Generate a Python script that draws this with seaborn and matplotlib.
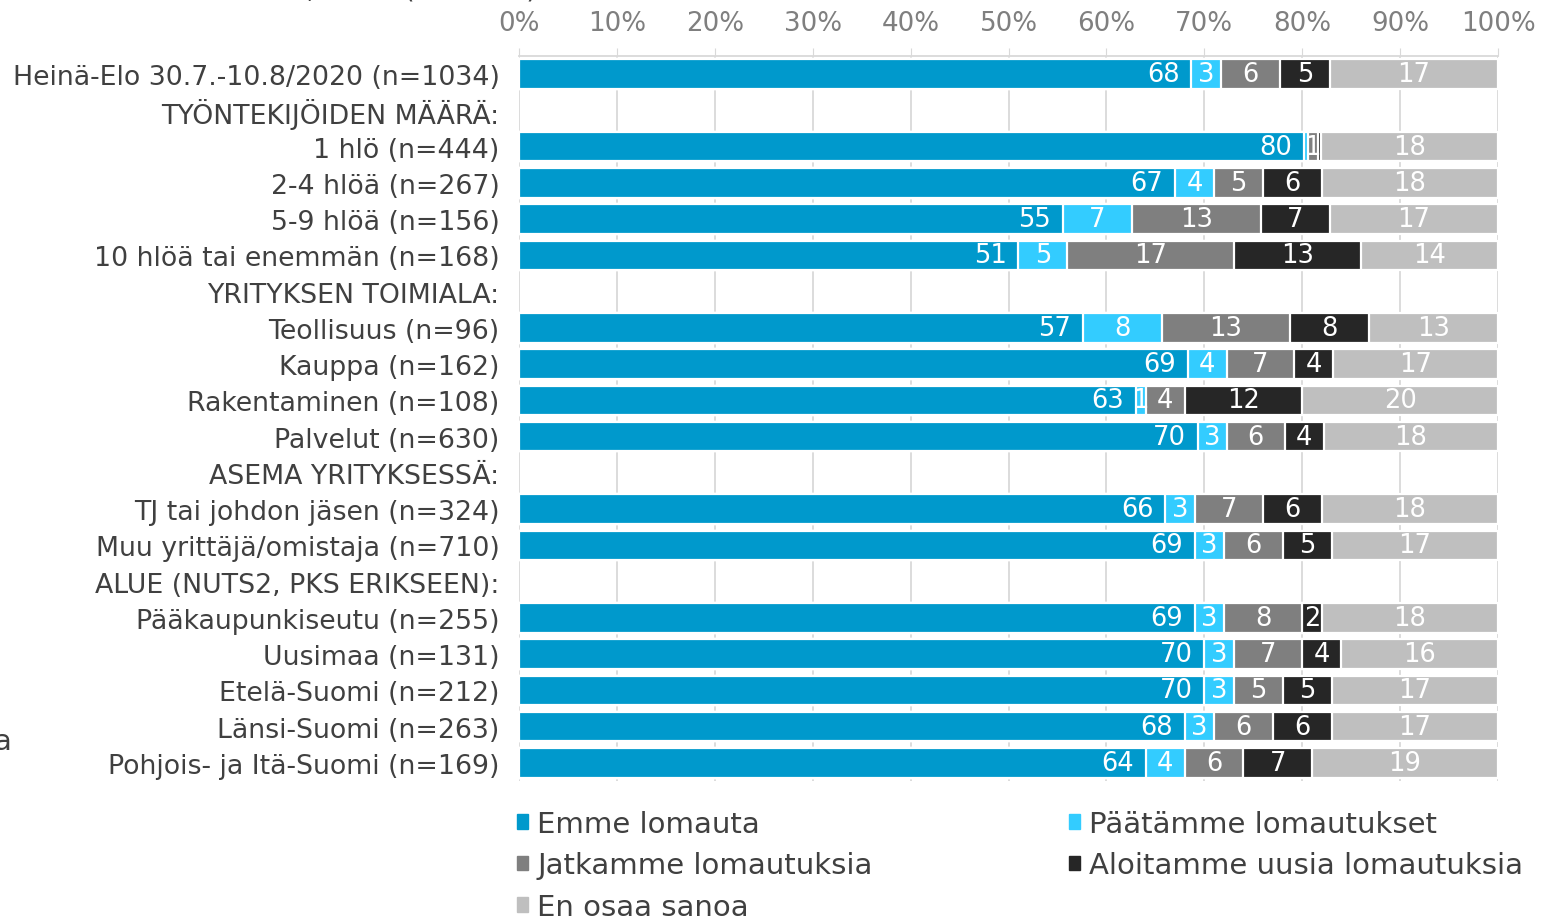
import numpy as np
import pandas as pd
import matplotlib
matplotlib.use("Agg")
import matplotlib.pyplot as plt
import matplotlib.patches as mpatches
from matplotlib.ticker import FuncFormatter
import seaborn as sns

categories = [
    "Heinä-Elo 30.7.-10.8/2020 (n=1034)",
    "TYÖNTEKIJÖIDEN MÄÄRÄ:",
    "1 hlö (n=444)",
    "2-4 hlöä (n=267)",
    "5-9 hlöä (n=156)",
    "10 hlöä tai enemmän (n=168)",
    "YRITYKSEN TOIMIALA:",
    "Teollisuus (n=96)",
    "Kauppa (n=162)",
    "Rakentaminen (n=108)",
    "Palvelut (n=630)",
    "ASEMA YRITYKSESSÄ:",
    "TJ tai johdon jäsen (n=324)",
    "Muu yrittäjä/omistaja (n=710)",
    "ALUE (NUTS2, PKS ERIKSEEN):",
    "Pääkaupunkiseutu (n=255)",
    "Uusimaa (n=131)",
    "Etelä-Suomi (n=212)",
    "Länsi-Suomi (n=263)",
    "Pohjois- ja Itä-Suomi (n=169)",
]

nan = np.nan
emme = [68, nan, 80, 67, 55, 51, nan, 57, 69, 63, 70, nan, 66, 69, nan, 69, 70, 70, 68, 64]
paatamme = [3, nan, 0.4, 4, 7, 5, nan, 8, 4, 1, 3, nan, 3, 3, nan, 3, 3, 3, 3, 4]
jatkamme = [6, nan, 1, 5, 13, 17, nan, 13, 7, 4, 6, nan, 7, 6, nan, 8, 7, 5, 6, 6]
aloitamme = [5, nan, 0.4, 6, 7, 13, nan, 8, 4, 12, 4, nan, 6, 5, nan, 2, 4, 5, 6, 7]
en_osaa = [17, nan, 18, 18, 17, 14, nan, 13, 17, 20, 18, nan, 18, 17, nan, 18, 16, 17, 17, 19]

series_names = ["Emme lomauta", "Päätämme lomautukset", "Jatkamme lomautuksia",
                "Aloitamme uusia lomautuksia", "En osaa sanoa"]
colors = ["#0099CC", "#33CCFF", "#7F7F7F", "#262626", "#BFBFBF"]

df = pd.DataFrame({"label": categories})
for name, vals in zip(series_names, [emme, paatamme, jatkamme, aloitamme, en_osaa]):
    df[name] = vals

# 100 % pinottu: skaalataan rivit sataan
share = df[series_names].div(df[series_names].sum(axis=1, min_count=1), axis=0) * 100
cum = share.cumsum(axis=1)
cum["label"] = df["label"]

plt.rcParams["font.family"] = ["DejaVu Sans"]
fig = plt.figure(figsize=(15.42, 9.2), dpi=100)
ax = fig.add_axes([519 / 1542, 1 - 782 / 920, (1498 - 519) / 1542, (782 - 57) / 920])

# piirretään kumulatiiviset summat takaperin päällekkäin
for k in reversed(range(len(series_names))):
    sns.barplot(data=cum, x=series_names[k], y="label", order=categories, orient="h",
                color=colors[k], saturation=1, width=0.82, edgecolor="white",
                linewidth=1.6, errorbar=None, ax=ax, zorder=2)

for i in range(len(categories)):
    start = 0
    for j, name in enumerate(series_names):
        v = df.loc[i, name]
        if np.isnan(v):
            continue
        w = share.loc[i, name]
        if v >= 1:
            if j == 0:
                # ensimmäisen sarjan luku palkin sisäpäähän
                ax.text(start + w - 1.2, i, f"{v:.0f}", ha="right", va="center",
                        color="white", fontsize=18.5, zorder=3)
            else:
                ax.text(start + w / 2, i, f"{v:.0f}", ha="center", va="center",
                        color="white", fontsize=18.5, zorder=3)
        start += w

ax.set_xlim(0, 100)
ax.set_ylim(len(categories) - 0.5, -0.5)
ax.set_xlabel("")
ax.set_ylabel("")
ax.xaxis.tick_top()
ax.set_xticks(np.arange(0, 101, 10))
ax.xaxis.set_major_formatter(FuncFormatter(lambda x, p: f"{x:.0f}%"))
ax.grid(axis="x", color="#D9D9D9", lw=1.3)
ax.grid(axis="y", visible=False)
ax.set_axisbelow(True)
for s in ["left", "right", "bottom"]:
    ax.spines[s].set_visible(False)
ax.spines["top"].set_color("#D9D9D9")
ax.spines["top"].set_linewidth(1.3)
ax.tick_params(axis="x", top=True, length=6, color="#D9D9D9", labelcolor="#7F7F7F",
               labelsize=18.8, pad=8.5)
ax.tick_params(axis="y", length=0, labelcolor="#404040", labelsize=19.3, pad=14)

handles = [mpatches.Patch(color=c) for c in colors]
leg_kw = dict(loc="upper left", frameon=False, fontsize=21, handlelength=0.4,
              handleheight=0.4, handletextpad=0.3, labelspacing=0.47, borderaxespad=0,
              labelcolor="#404040")
fig.legend([handles[0], handles[2], handles[4]], [series_names[0], series_names[2], series_names[4]],
           bbox_to_anchor=(505 / 1542, 1 - 799 / 920), **leg_kw)
fig.legend([handles[1], handles[3]], [series_names[1], series_names[3]],
           bbox_to_anchor=(1057 / 1542, 1 - 799 / 920), **leg_kw)

# leikkautuneet tekstinpalat reunoilla
fig.text(537 / 1542, 1 + 2 / 920, "Heinä-Elo, 2020 (n=1034)", ha="right", va="baseline",
         fontsize=20, color="#404040")
fig.text(-7 / 1542, 1 - 750 / 920, "a", ha="left", va="baseline", fontsize=21, color="#404040")

fig.savefig("out.png", dpi=100)
